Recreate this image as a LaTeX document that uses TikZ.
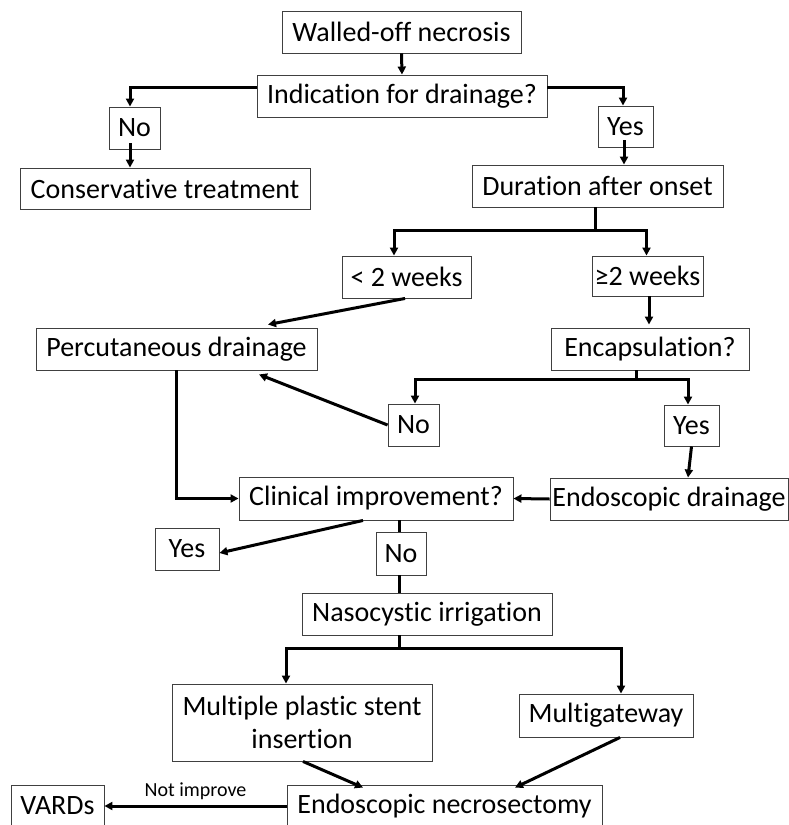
\documentclass[tikz,border=0pt]{standalone}
\usepackage{fontspec}
\setmainfont{Carlito}[Ligatures=NoCommon]
\usetikzlibrary{arrows.meta,calc}
\begin{document}
\begin{tikzpicture}[x=1pt,y=-1pt,
  box/.style={draw=black!75,line width=0.9pt,inner sep=0pt,align=center,font=\fontsize{28}{33}\selectfont},
  arr/.style={line width=3pt,-{Triangle[length=8pt,width=8pt]}},
  ln/.style={line width=3pt}]
\useasboundingbox[fill=white] (0,0) rectangle (789,825);
\node[box,minimum width=239pt,minimum height=42pt] (wall) at (401.5,32) {Walled-off necrosis};
\node[box,minimum width=290pt,minimum height=42pt] (ind) at (402,96) {Indication for drainage?};
\node[box,minimum width=51pt,minimum height=42pt] (no1) at (134.5,128) {No};
\node[box,minimum width=290pt,minimum height=41pt] (cons) at (165,188.5) {Conservative treatment};
\node[box,minimum width=55pt,minimum height=41pt] (yes1) at (625.5,126.5) {Yes};
\node[box,minimum width=251pt,minimum height=42pt] (dur) at (597.5,186) {Duration after onset};
\node[box,minimum width=129pt,minimum height=42pt] (lt2) at (406.5,277) {< 2 weeks};
\node[box,minimum width=111pt,minimum height=40pt] (ge2) at (647.5,276) {≥2 weeks};
\node[box,minimum width=281pt,minimum height=42pt] (perc) at (176.5,349) {Percutaneous drainage};
\node[box,minimum width=198pt,minimum height=42pt] (enc) at (650,349) {Encapsulation?};
\node[box,minimum width=51pt,minimum height=42pt] (no2) at (413.5,425) {No};
\node[box,minimum width=55pt,minimum height=41pt] (yes2) at (691.5,425.5) {Yes};
\node[box,minimum width=274pt,minimum height=43pt] (clin) at (376,498.5) {Clinical improvement?};
\node[box,minimum width=238pt,minimum height=42pt] (endd) at (669,499) {Endoscopic drainage};
\node[box,minimum width=64pt,minimum height=42pt] (yes3) at (187,549) {Yes};
\node[box,minimum width=50pt,minimum height=43pt] (no3) at (401,553.5) {No};
\node[box,minimum width=250pt,minimum height=42pt] (naso) at (427,614) {Nasocystic irrigation};
\node[box,minimum width=260pt,minimum height=77pt] (mps) at (302,722.5) {Multiple plastic stent\\insertion};
\node[box,minimum width=174pt,minimum height=43pt] (mgw) at (606,715.5) {Multigateway};
\node[box,minimum width=315pt,minimum height=42pt] (necr) at (444.5,806) {Endoscopic necrosectomy};
\node[box,minimum width=93pt,minimum height=42pt] (vards) at (57.5,806) {VARDs};
% connectors
\draw[arr] (wall.south) -- (ind.north);
\draw[arr] ([yshift=9pt]ind.west) -| ([xshift=-4.5pt]no1.north);
\draw[arr] ([xshift=-4.5pt,yshift=6pt]no1.south) -- ([xshift=-4.5pt]no1.south |- cons.north);
\draw[arr] ([yshift=9pt]ind.east) -| ([xshift=-2.5pt]yes1.north);
\draw[arr] ([xshift=-1.5pt,yshift=7pt]yes1.south) -- ([xshift=-1.5pt]yes1.south |- dur.north);
\coordinate (j1) at (595,230);
\draw[ln] ([xshift=-2.5pt]dur.south) -- (j1);
\draw[arr] (j1) -| ([xshift=-12.5pt]lt2.north);
\draw[arr] (j1) -| ([xshift=-1pt]ge2.north);
\draw[arr] ([xshift=-1.5pt]lt2.south) -- ([xshift=91.5pt,yshift=3pt]perc.north);
\draw[arr] ([xshift=1.5pt]ge2.south) -- ([xshift=-1pt,yshift=3pt]enc.north);
\coordinate (j2) at (636,379);
\draw[ln] ([xshift=-14pt]enc.south) -- (j2);
\draw[arr] (j2) -| ([xshift=1.5pt]no2.north);
\draw[arr] (j2) -| ([xshift=-3.5pt]yes2.north);
\draw[arr] (no2.west) -- ([xshift=82.5pt,yshift=-4pt]perc.south);
\draw[arr] (perc.south) |- (clin.west);
\draw[arr] (yes2.south) -- ([xshift=19pt]endd.north);
\draw[arr] (endd.west) -- (clin.east);
\draw[ln] ([xshift=23pt]clin.south) -- ([xshift=-2pt]no3.north);
\draw[arr] ([xshift=-13pt]clin.south) -- ([yshift=-4pt]yes3.east);
\draw[ln] ([xshift=-2pt]no3.south) -- ([xshift=-28pt]naso.north);
\coordinate (j3) at (399,648);
\draw[ln] ([xshift=-28pt]naso.south) -- (j3);
\draw[arr] (j3) -| ([xshift=-16pt]mps.north);
\draw[arr] (j3) -| ([xshift=15pt]mgw.north);
\draw[arr] ([xshift=1pt]mps.south) -- ([xshift=-81.5pt,yshift=-3pt]necr.north);
\draw[arr] ([xshift=14pt]mgw.south) -- ([xshift=70.5pt,yshift=-3pt]necr.north);
\draw[arr] (necr.west) -- node[above=1pt,font=\fontsize{20}{22}\selectfont] (lbl) {Not improve} (vards.east);
\end{tikzpicture}
\end{document}
